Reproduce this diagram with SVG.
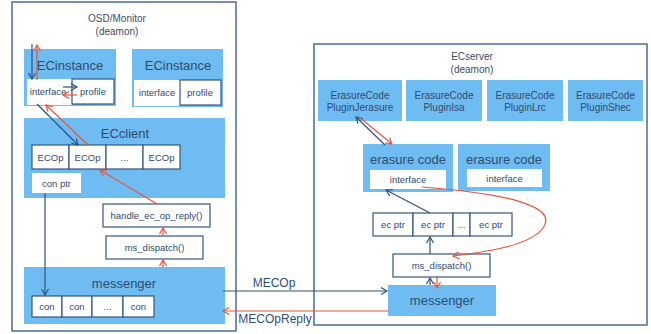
<svg xmlns="http://www.w3.org/2000/svg" width="651" height="334" viewBox="0 0 651 334">
<style>
.frame{fill:#fff;stroke:#4a6b96;stroke-width:1.5}
.blue{fill:#6fbcf3}
.wb{fill:#fff}
.cell{fill:#fff;stroke:#34557f;stroke-width:1.2}
.t{font-family:"Liberation Sans",Arial,sans-serif;text-anchor:middle;fill:#2f4a6d}
.big{font-size:13px}
.sm{font-size:9.5px}
.ttl{font-size:10px;fill:#3d4b5c}
.lbl{font-size:12px;fill:#2e4f7c}
.cb{fill:none;stroke:#2e5180;stroke-width:1.2}
.cr{fill:none;stroke:#e5553d;stroke-width:1.2}
</style>
<defs>
<marker id="ab" markerWidth="10" markerHeight="10" refX="7" refY="4" orient="auto" markerUnits="userSpaceOnUse"><path d="M1,0.5 L7,4 L1,7.5" fill="none" stroke="#2e5180" stroke-width="1.2"/></marker>
<marker id="ar" markerWidth="10" markerHeight="10" refX="7" refY="4" orient="auto" markerUnits="userSpaceOnUse"><path d="M1,0.5 L7,4 L1,7.5" fill="none" stroke="#e5553d" stroke-width="1.2"/></marker>
</defs>

<g id="osd">
<rect class="frame" x="12" y="2" width="224" height="329"/>
<text class="t ttl" x="117" y="22">OSD/Monitor</text>
<text class="t ttl" x="117" y="35">(deamon)</text>
</g>

<g id="ecinstance1">
<rect class="blue" x="24" y="49" width="92" height="57"/>
<text class="t big" x="70" y="70">ECinstance</text>
<rect class="wb" x="27" y="79" width="45" height="26"/>
<text class="t sm" x="48" y="95">interface</text>
<rect class="cell" x="72" y="79" width="42" height="25"/>
<text class="t sm" x="93" y="95">profile</text>
</g>

<g id="ecinstance2">
<rect class="blue" x="132" y="49" width="91" height="58"/>
<text class="t big" x="178" y="70">ECinstance</text>
<rect class="wb" x="134" y="80" width="46" height="26"/>
<text class="t sm" x="157" y="96">interface</text>
<rect class="cell" x="180" y="80" width="41" height="25"/>
<text class="t sm" x="200" y="96">profile</text>
</g>

<g id="ecclient">
<rect class="blue" x="24" y="118" width="201" height="80"/>
<text class="t big" x="125" y="138">ECclient</text>
<rect class="cell" x="32" y="145" width="37" height="24"/>
<text class="t sm" x="50.5" y="161">ECOp</text>
<rect class="cell" x="69" y="145" width="37" height="24"/>
<text class="t sm" x="87.5" y="161">ECOp</text>
<rect class="cell" x="106" y="145" width="37" height="24"/>
<text class="t sm" x="124.5" y="161">...</text>
<rect class="cell" x="143" y="145" width="37" height="24"/>
<text class="t sm" x="161.5" y="161">ECOp</text>
<rect class="wb" x="32" y="173" width="49" height="20"/>
<text class="t sm" x="56.5" y="187">con ptr</text>
</g>

<g id="handle">
<rect class="cell" x="103" y="204" width="107" height="23"/>
<text class="t sm" x="156.5" y="219">handle_ec_op_reply()</text>
</g>

<g id="msdispatch1">
<rect class="cell" x="106" y="236" width="97" height="23"/>
<text class="t sm" x="154.5" y="251">ms_dispatch()</text>
</g>

<g id="messenger1">
<rect class="blue" x="24" y="267" width="201" height="57"/>
<text class="t big" x="124" y="288">messenger</text>
<rect class="cell" x="32" y="296" width="30" height="21"/>
<text class="t sm" x="47" y="310">con</text>
<rect class="cell" x="62" y="296" width="30" height="21"/>
<text class="t sm" x="77" y="310">con</text>
<rect class="cell" x="92" y="296" width="31" height="21"/>
<text class="t sm" x="107.5" y="310">...</text>
<rect class="cell" x="123" y="296" width="31" height="21"/>
<text class="t sm" x="138.5" y="310">con</text>
</g>

<g id="ecserver">
<rect class="frame" x="314" y="44" width="333" height="281"/>
<text class="t ttl" x="472" y="60">ECserver</text>
<text class="t ttl" x="472" y="73">(deamon)</text>
</g>

<g id="plugin1">
<rect class="blue" x="318" y="80" width="84" height="41"/>
<text class="t ttl" x="360" y="99" style="fill:#2f4a6d">ErasureCode</text>
<text class="t ttl" x="360" y="111" style="fill:#2f4a6d">PluginJerasure</text>
</g>
<g id="plugin2">
<rect class="blue" x="406" y="80" width="76" height="41"/>
<text class="t ttl" x="444" y="99" style="fill:#2f4a6d">ErasureCode</text>
<text class="t ttl" x="444" y="111" style="fill:#2f4a6d">PluginIsa</text>
</g>
<g id="plugin3">
<rect class="blue" x="487" y="80" width="76" height="41"/>
<text class="t ttl" x="525" y="99" style="fill:#2f4a6d">ErasureCode</text>
<text class="t ttl" x="525" y="111" style="fill:#2f4a6d">PluginLrc</text>
</g>
<g id="plugin4">
<rect class="blue" x="568" y="80" width="75" height="41"/>
<text class="t ttl" x="605.5" y="99" style="fill:#2f4a6d">ErasureCode</text>
<text class="t ttl" x="605.5" y="111" style="fill:#2f4a6d">PluginShec</text>
</g>

<g id="erasure1">
<rect class="blue" x="363" y="144" width="90" height="48"/>
<text class="t big" x="408" y="164">erasure code</text>
<rect class="wb" x="370" y="170" width="76" height="19"/>
<text class="t sm" x="408" y="183">interface</text>
</g>
<g id="erasure2">
<rect class="blue" x="458" y="144" width="92" height="47"/>
<text class="t big" x="504" y="164">erasure code</text>
<rect class="wb" x="467" y="169" width="75" height="18"/>
<text class="t sm" x="504.5" y="182">interface</text>
</g>

<g id="ecptrs">
<rect class="cell" x="373" y="213" width="40" height="23"/>
<text class="t sm" x="393" y="228">ec ptr</text>
<rect class="cell" x="413" y="213" width="40" height="23"/>
<text class="t sm" x="433" y="228">ec ptr</text>
<rect class="cell" x="453" y="213" width="17" height="23"/>
<text class="t sm" x="461.5" y="228">...</text>
<rect class="cell" x="470" y="213" width="42" height="23"/>
<text class="t sm" x="491" y="228">ec ptr</text>
</g>

<g id="msdispatch2">
<rect class="cell" x="393" y="254" width="97" height="23"/>
<text class="t sm" x="441.5" y="269">ms_dispatch()</text>
</g>

<g id="messenger2">
<rect class="blue" x="388" y="285" width="108" height="31"/>
<text class="t big" x="442" y="305">messenger</text>
</g>

<g id="connectors">
<line class="cb" x1="32" y1="44" x2="32" y2="79" marker-end="url(#ab)"/>
<line class="cr" x1="37" y1="80" x2="37" y2="45" marker-end="url(#ar)"/>
<line class="cb" x1="63" y1="87" x2="77" y2="87" marker-end="url(#ab)"/>
<line class="cr" x1="77" y1="95" x2="63" y2="95" marker-end="url(#ar)"/>
<line class="cb" x1="37" y1="104" x2="78" y2="145" marker-end="url(#ab)"/>
<line class="cr" x1="88" y1="145" x2="46" y2="105" marker-end="url(#ar)"/>
<line class="cr" x1="157" y1="204" x2="100" y2="170" marker-end="url(#ar)"/>
<line class="cr" x1="163" y1="236" x2="163" y2="228" marker-end="url(#ar)"/>
<line class="cr" x1="163" y1="267" x2="163" y2="260" marker-end="url(#ar)"/>
<line class="cb" x1="45" y1="193" x2="45" y2="295" marker-end="url(#ab)"/>
<line class="cb" x1="223" y1="291" x2="387" y2="291" marker-end="url(#ab)"/>
<text class="t lbl" x="274" y="287">MECOp</text>
<line class="cr" x1="388" y1="311" x2="223" y2="311" marker-end="url(#ar)"/>
<text class="t lbl" x="275" y="323">MECOpReply</text>
<line class="cb" x1="385" y1="145" x2="356" y2="117" marker-end="url(#ab)"/>
<line class="cr" x1="359" y1="117" x2="392" y2="144" marker-end="url(#ar)"/>
<line class="cb" x1="430" y1="213" x2="386" y2="190" marker-end="url(#ab)"/>
<path class="cr" d="M422,187 C500,193 560,205 543,228 C530,246 485,252 453,256" marker-end="url(#ar)"/>
<line class="cb" x1="430" y1="254" x2="430" y2="237" marker-end="url(#ab)"/>
<line class="cb" x1="430" y1="285" x2="430" y2="278" marker-end="url(#ab)"/>
<line class="cr" x1="437" y1="277" x2="437" y2="288" marker-end="url(#ar)"/>
</g>
</svg>
